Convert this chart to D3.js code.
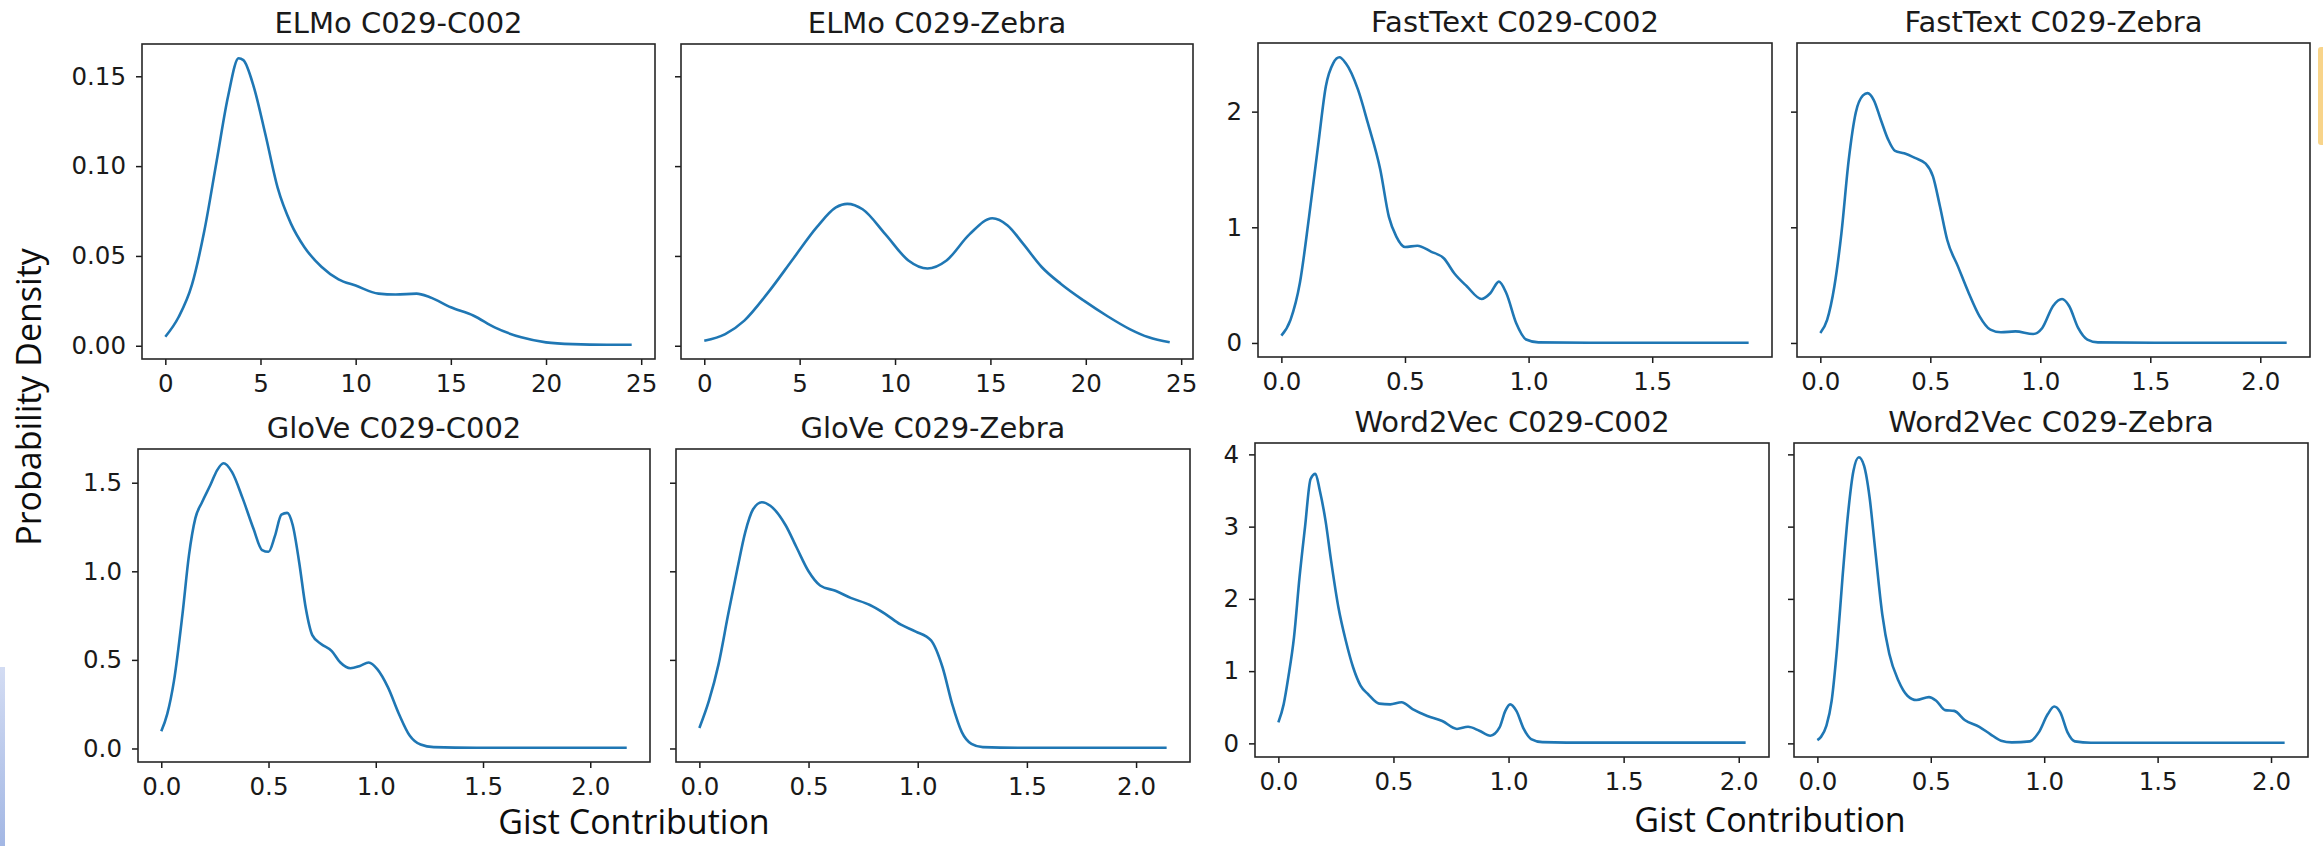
<!DOCTYPE html>
<html>
<head>
<meta charset="utf-8">
<script src="https://cdn.jsdelivr.net/npm/d3@7"></script>
<style>
  html, body { margin: 0; padding: 0; background: #fff; }
  #chart svg { display: block; }
</style>
</head>
<body>
<div id="chart"></div>
<script>
// density curves (x = gist contribution, y = probability density)
const elmoC002X = [0, 0.7, 1.4, 2.05, 2.7, 3.3, 3.85, 4.1, 4.65, 5.25, 5.9, 6.6, 7.3, 8.2, 9.1, 10.0, 11.2, 12.1, 13.2, 13.9, 15.0, 16.2, 17.3, 18.7, 20.0, 21.4, 23.2, 24.5];
const elmoC002Y = [0.005, 0.016, 0.034, 0.064, 0.103, 0.139, 0.16, 0.159, 0.144, 0.118, 0.088, 0.068, 0.055, 0.044, 0.037, 0.0335, 0.029, 0.0285, 0.029, 0.027, 0.0214, 0.0167, 0.0102, 0.0047, 0.0019, 0.0009, 0.0006, 0.0006];

const elmoZebraX = [0, 1.1, 2.1, 3.3, 4.7, 5.9, 6.9, 7.5, 8.3, 9.5, 10.7, 11.7, 12.7, 13.9, 15.1, 15.9, 16.7, 17.7, 18.7, 19.9, 21.1, 22.3, 23.3, 24.4];
const elmoZebraY = [0.0028, 0.0065, 0.014, 0.029, 0.049, 0.066, 0.077, 0.079, 0.076, 0.062, 0.0475, 0.043, 0.0475, 0.062, 0.071, 0.067, 0.057, 0.0437, 0.0344, 0.0251, 0.0167, 0.0093, 0.0047, 0.0019];

const fastC002X = [0, 0.037, 0.075, 0.112, 0.15, 0.18, 0.21, 0.235, 0.26, 0.31, 0.35, 0.40, 0.435, 0.465, 0.50, 0.55, 0.605, 0.658, 0.70, 0.75, 0.81, 0.845, 0.88, 0.91, 0.95, 0.99, 1.04, 1.25, 1.89];
const fastC002Y = [0.063, 0.2, 0.52, 1.09, 1.73, 2.22, 2.42, 2.47, 2.42, 2.19, 1.9, 1.5, 1.09, 0.92, 0.83, 0.84, 0.79, 0.73, 0.60, 0.49, 0.38, 0.43, 0.53, 0.43, 0.17, 0.03, 0.005, 0.002, 0.002];

const fastZebraX = [0, 0.031, 0.064, 0.096, 0.129, 0.161, 0.194, 0.215, 0.243, 0.275, 0.308, 0.34, 0.381, 0.43, 0.479, 0.512, 0.544, 0.577, 0.626, 0.675, 0.724, 0.773, 0.821, 0.887, 0.968, 1.009, 1.058, 1.099, 1.131, 1.172, 1.214, 1.262, 1.52, 2.12];
const fastZebraY = [0.086, 0.2, 0.49, 0.95, 1.58, 1.99, 2.14, 2.16, 2.1, 1.93, 1.76, 1.66, 1.64, 1.6, 1.55, 1.44, 1.18, 0.89, 0.66, 0.43, 0.23, 0.115, 0.092, 0.1, 0.078, 0.13, 0.32, 0.38, 0.32, 0.13, 0.029, 0.005, 0.002, 0.002];

const gloveC002X = [0, 0.028, 0.059, 0.099, 0.129, 0.159, 0.19, 0.23, 0.26, 0.29, 0.33, 0.38, 0.43, 0.47, 0.50, 0.53, 0.56, 0.587, 0.613, 0.643, 0.674, 0.704, 0.745, 0.795, 0.835, 0.882, 0.926, 0.967, 1.007, 1.057, 1.108, 1.158, 1.209, 1.27, 1.47, 2.17];
const gloveC002Y = [0.097, 0.195, 0.38, 0.76, 1.09, 1.3, 1.39, 1.49, 1.57, 1.61, 1.56, 1.41, 1.24, 1.12, 1.11, 1.2, 1.32, 1.33, 1.26, 1.05, 0.79, 0.64, 0.59, 0.55, 0.485, 0.453, 0.466, 0.485, 0.448, 0.345, 0.195, 0.073, 0.022, 0.0075, 0.004, 0.004];

const gloveZebraX = [0, 0.044, 0.088, 0.132, 0.175, 0.21, 0.246, 0.286, 0.325, 0.395, 0.447, 0.5, 0.553, 0.623, 0.693, 0.781, 0.851, 0.921, 0.991, 1.061, 1.114, 1.158, 1.202, 1.246, 1.298, 1.48, 2.14];
const gloveZebraY = [0.116, 0.27, 0.476, 0.757, 1.02, 1.22, 1.35, 1.39, 1.37, 1.26, 1.13, 1.0, 0.92, 0.89, 0.85, 0.81, 0.76, 0.7, 0.66, 0.61, 0.457, 0.25, 0.092, 0.026, 0.0075, 0.004, 0.004];

const w2vC002X = [0, 0.023, 0.043, 0.068, 0.092, 0.116, 0.14, 0.161, 0.18, 0.205, 0.229, 0.261, 0.293, 0.325, 0.357, 0.39, 0.438, 0.486, 0.535, 0.583, 0.647, 0.712, 0.776, 0.824, 0.873, 0.921, 0.961, 0.986, 1.007, 1.034, 1.066, 1.098, 1.147, 1.356, 2.03];
const w2vC002Y = [0.29, 0.54, 0.91, 1.47, 2.3, 3.0, 3.66, 3.73, 3.5, 3.08, 2.53, 1.88, 1.42, 1.05, 0.8, 0.68, 0.55, 0.54, 0.57, 0.475, 0.38, 0.31, 0.2, 0.23, 0.175, 0.106, 0.22, 0.45, 0.54, 0.45, 0.2, 0.06, 0.018, 0.01, 0.01];

const w2vZebraX = [0, 0.016, 0.04, 0.063, 0.087, 0.111, 0.135, 0.159, 0.183, 0.206, 0.23, 0.254, 0.286, 0.317, 0.357, 0.397, 0.437, 0.492, 0.524, 0.563, 0.603, 0.651, 0.714, 0.762, 0.81, 0.857, 0.937, 0.976, 1.016, 1.044, 1.071, 1.103, 1.135, 1.206, 1.492, 2.06];
const w2vZebraY = [0.046, 0.09, 0.245, 0.59, 1.33, 2.3, 3.17, 3.77, 3.96, 3.84, 3.41, 2.71, 1.79, 1.24, 0.87, 0.66, 0.6, 0.64, 0.59, 0.46, 0.45, 0.32, 0.23, 0.129, 0.037, 0.014, 0.028, 0.152, 0.406, 0.51, 0.43, 0.152, 0.028, 0.009, 0.009, 0.009];

// tick labels
const elmoXTicks = [0, 5, 10, 15, 20, 25];
const elmoYTicks = [0, 0.05, 0.10, 0.15];
const fastC002XTicks = [0, 0.5, 1.0, 1.5];
const unitXTicks = [0, 0.5, 1.0, 1.5, 2.0];
const fastYTicks = [0, 1, 2];
const gloveYTicks = [0, 0.5, 1.0, 1.5];
const w2vYTicks = [0, 1, 2, 3, 4];

const yLabel = 'Probability Density';
const xLabel = 'Gist Contribution';

const W = 2323, H = 846;
const lineColor = '#1f77b4';
const inkColor = '#1a1a1a';

// panel layout: box = [left, top, right, bottom] of the axes frame
const panels = [
    {title: 'ELMo C029-C002', xs: elmoC002X, ys: elmoC002Y, group: 'elmo', box: [142, 44, 655, 359],
     xTicks: elmoXTicks, xFmt: 'd', yTicks: elmoYTicks, yFmt: '.2f', showY: true},
    {title: 'ELMo C029-Zebra', xs: elmoZebraX, ys: elmoZebraY, group: 'elmo', box: [681, 44, 1193, 359],
     xTicks: elmoXTicks, xFmt: 'd', yTicks: elmoYTicks, yFmt: '.2f', showY: false},
    {title: 'FastText C029-C002', xs: fastC002X, ys: fastC002Y, group: 'fast', box: [1258, 43, 1772, 357],
     xTicks: fastC002XTicks, xFmt: '.1f', yTicks: fastYTicks, yFmt: 'd', showY: true},
    {title: 'FastText C029-Zebra', xs: fastZebraX, ys: fastZebraY, group: 'fast', box: [1797, 43, 2310, 357],
     xTicks: unitXTicks, xFmt: '.1f', yTicks: fastYTicks, yFmt: 'd', showY: false},
    {title: 'GloVe C029-C002', xs: gloveC002X, ys: gloveC002Y, group: 'glove', box: [138, 449, 650, 762],
     xTicks: unitXTicks, xFmt: '.1f', yTicks: gloveYTicks, yFmt: '.1f', showY: true},
    {title: 'GloVe C029-Zebra', xs: gloveZebraX, ys: gloveZebraY, group: 'glove', box: [676, 449, 1190, 762],
     xTicks: unitXTicks, xFmt: '.1f', yTicks: gloveYTicks, yFmt: '.1f', showY: false},
    {title: 'Word2Vec C029-C002', xs: w2vC002X, ys: w2vC002Y, group: 'w2v', box: [1255, 443, 1769, 757],
     xTicks: unitXTicks, xFmt: '.1f', yTicks: w2vYTicks, yFmt: 'd', showY: true},
    {title: 'Word2Vec C029-Zebra', xs: w2vZebraX, ys: w2vZebraY, group: 'w2v', box: [1794, 443, 2308, 757],
     xTicks: unitXTicks, xFmt: '.1f', yTicks: w2vYTicks, yFmt: 'd', showY: false}
];

// matplotlib-style 5% margin around the data
function padded(values) {
    const [lo, hi] = d3.extent(values);
    const m = (hi - lo) * 0.05;
    return [lo - m, hi + m];
}

// shared y domain for each pair of panels
const yDomains = {};
d3.groups(panels, p => p.group).forEach(([key, ps]) => {
    yDomains[key] = padded(ps.flatMap(p => p.ys));
});

const svg = d3.select('#chart')
    .append('svg')
    .attr('width', W)
    .attr('height', H)
    .style('background', '#fff');

function drawPanel(p) {
    const [left, top, right, bottom] = p.box;
    const x = d3.scaleLinear().domain(padded(p.xs)).range([left, right]);
    const y = d3.scaleLinear().domain(yDomains[p.group]).range([bottom, top]);
    const g = svg.append('g');

    // x axis
    const xAxis = g.append('g')
        .attr('transform', `translate(0,${bottom})`)
        .call(d3.axisBottom(x)
            .tickValues(p.xTicks)
            .tickFormat(d3.format(p.xFmt))
            .tickSize(6)
            .tickPadding(9.5));

    // y axis (labels only on the left panel of each pair)
    const yAxis = g.append('g')
        .attr('transform', `translate(${left},0)`)
        .call(d3.axisLeft(y)
            .tickValues(p.yTicks)
            .tickFormat(p.showY ? d3.format(p.yFmt) : () => '')
            .tickSize(6)
            .tickPadding(10));

    [xAxis, yAxis].forEach(a => {
        a.select('.domain').remove();
        a.selectAll('.tick line').attr('stroke', inkColor).attr('stroke-width', 1.5);
        a.selectAll('.tick text')
            .attr('fill', inkColor)
            .style('font-family', '"DejaVu Sans", sans-serif')
            .style('font-size', '24.5px');
    });

    // density curve
    g.append('path')
        .datum(d3.zip(p.xs, p.ys))
        .attr('fill', 'none')
        .attr('stroke', lineColor)
        .attr('stroke-width', 2.6)
        .attr('stroke-linejoin', 'round')
        .attr('d', d3.line()
            .x(d => x(d[0]))
            .y(d => y(d[1]))
            .curve(d3.curveMonotoneX));

    // frame
    g.append('rect')
        .attr('x', left)
        .attr('y', top)
        .attr('width', right - left)
        .attr('height', bottom - top)
        .attr('fill', 'none')
        .attr('stroke', '#262626')
        .attr('stroke-width', 1.6);

    // title
    g.append('text')
        .attr('x', (left + right) / 2)
        .attr('y', top - 11)
        .attr('text-anchor', 'middle')
        .style('font-family', '"DejaVu Sans", sans-serif')
        .style('font-size', '29px')
        .style('fill', inkColor)
        .text(p.title);
}

panels.forEach(drawPanel);

// shared axis labels (added on top of the figure)
const labelFont = '"Open Sans", "Noto Sans", sans-serif';

svg.append('text')
    .attr('transform', 'translate(41,397) rotate(-90)')
    .attr('text-anchor', 'middle')
    .style('font-family', labelFont)
    .style('font-size', '34px')
    .style('fill', '#0d0d0d')
    .text(yLabel);

[[634, 834], [1770, 832]].forEach(([cx, by]) => {
    svg.append('text')
        .attr('x', cx)
        .attr('y', by)
        .attr('text-anchor', 'middle')
        .style('font-family', labelFont)
        .style('font-size', '34px')
        .style('fill', '#0d0d0d')
        .text(xLabel);
});

// slide edges visible in the screenshot
const edge = svg.append('defs').append('linearGradient')
    .attr('id', 'edgeBlue')
    .attr('x1', 0).attr('y1', 0).attr('x2', 0).attr('y2', 1);
edge.append('stop').attr('offset', '0%').attr('stop-color', '#d3dcf3');
edge.append('stop').attr('offset', '100%').attr('stop-color', '#a3b7e4');

svg.append('rect')
    .attr('x', 0).attr('y', 667)
    .attr('width', 5).attr('height', H - 667)
    .attr('fill', 'url(#edgeBlue)');

svg.append('rect')
    .attr('x', 2318).attr('y', 47)
    .attr('width', 8).attr('height', 98)
    .attr('rx', 3)
    .attr('fill', '#f8d48a');
</script>
</body>
</html>
